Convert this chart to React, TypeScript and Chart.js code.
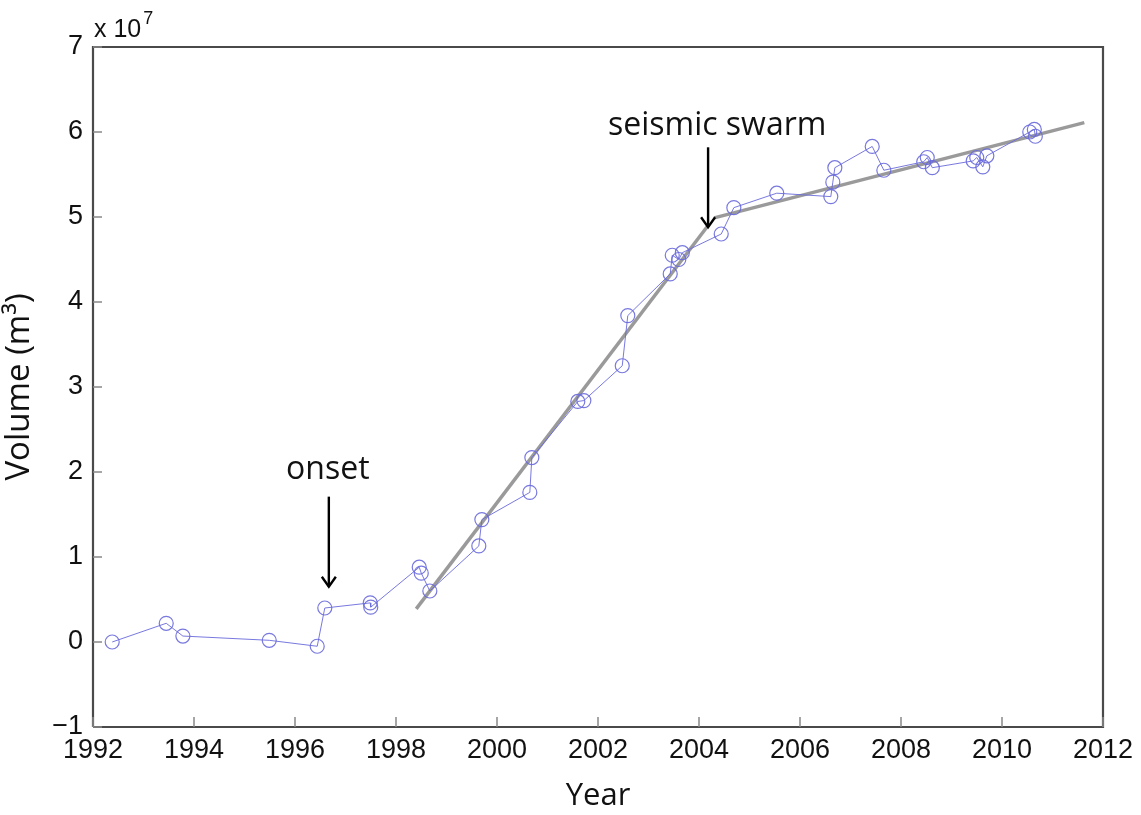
import React, { useEffect, useRef } from "react";
import { Chart, registerables } from "chart.js";

Chart.register(...registerables);

// Observed volume (x 10^7 m^3) by decimal year
const obsYears = [
  1992.38, 1993.45, 1993.78, 1995.49, 1996.44, 1996.59, 1997.49, 1997.5,
  1998.46, 1998.5, 1998.67, 1999.64, 1999.7, 2000.65, 2000.69, 2001.6,
  2001.72, 2002.48, 2002.59, 2003.43, 2003.47, 2003.6, 2003.67, 2004.44,
  2004.69, 2005.54, 2006.61, 2006.65, 2006.69, 2007.43, 2007.66, 2008.45,
  2008.52, 2008.62, 2009.43, 2009.5, 2009.62, 2009.7, 2010.55, 2010.64,
  2010.66,
];
const obsVolume = [
  0.0, 0.22, 0.07, 0.02, -0.05, 0.4, 0.46, 0.41,
  0.88, 0.81, 0.6, 1.13, 1.44, 1.76, 2.17, 2.83,
  2.84, 3.25, 3.84, 4.33, 4.55, 4.5, 4.58, 4.8,
  5.11, 5.28, 5.24, 5.41, 5.58, 5.83, 5.55, 5.65,
  5.7, 5.58, 5.66, 5.7, 5.59, 5.72, 6.0, 6.03,
  5.95,
];

// Piecewise linear fits
const fit1Years = [1998.4, 2004.18];
const fit1Volume = [0.39, 4.9];
const fit2Years = [2004.3, 2011.63];
const fit2Volume = [4.99, 6.11];

// Annotations
const annotLabels = ["onset", "seismic swarm"];
const annotTextX = [1996.65, 2004.36];
const annotTextY = [2.02, 6.07];
const arrowX = [1996.67, 2004.18];
const arrowFromY = [1.71, 5.82];
const arrowToY = [0.65, 4.88];

// Axis ticks
const xTicks = [1992, 1994, 1996, 1998, 2000, 2002, 2004, 2006, 2008, 2010, 2012];
const yTicks = [-1, 0, 1, 2, 3, 4, 5, 6, 7];

const toPts = (xs: number[], ys: number[]) => xs.map((x, i) => ({ x, y: ys[i] }));

const decorPlugin = {
  id: "decor",
  afterDraw(chart: any) {
    const { ctx, chartArea, scales } = chart;
    const xs = scales.x;
    const ys = scales.y;
    ctx.save();
    // box
    ctx.strokeStyle = "#4a4a4a";
    ctx.lineWidth = 2.2;
    ctx.beginPath();
    ctx.moveTo(chartArea.left, chartArea.bottom);
    ctx.lineTo(chartArea.left, chartArea.top);
    ctx.lineTo(chartArea.right, chartArea.top);
    ctx.lineTo(chartArea.right, chartArea.bottom);
    ctx.lineTo(chartArea.left, chartArea.bottom);
    ctx.stroke();
    // inner ticks
    ctx.strokeStyle = "#888";
    ctx.lineWidth = 1.5;
    xTicks.forEach((t) => {
      const px = xs.getPixelForValue(t);
      ctx.beginPath();
      ctx.moveTo(px, chartArea.bottom);
      ctx.lineTo(px, chartArea.bottom - 10);
      ctx.stroke();
    });
    yTicks.forEach((t) => {
      const py = ys.getPixelForValue(t);
      ctx.beginPath();
      ctx.moveTo(chartArea.left, py);
      ctx.lineTo(chartArea.left + 9, py);
      ctx.stroke();
    });
    // exponent label
    ctx.fillStyle = "#111";
    ctx.textAlign = "left";
    ctx.textBaseline = "alphabetic";
    ctx.font = "25px 'Liberation Sans', Arial, sans-serif";
    ctx.fillText("x 10", chartArea.left + 1, chartArea.top - 10);
    const w = ctx.measureText("x 10").width;
    ctx.font = "18px 'Liberation Sans', Arial, sans-serif";
    ctx.fillText("7", chartArea.left + 3 + w, chartArea.top - 23);
    // annotations
    ctx.font = "32px 'Open Sans', sans-serif";
    ctx.textAlign = "center";
    ctx.textBaseline = "middle";
    annotLabels.forEach((lab, i) => {
      ctx.fillText(lab, xs.getPixelForValue(annotTextX[i]), ys.getPixelForValue(annotTextY[i]));
    });
    ctx.strokeStyle = "#000";
    ctx.lineWidth = 2.4;
    arrowX.forEach((ax, i) => {
      const px = xs.getPixelForValue(ax);
      const y0 = ys.getPixelForValue(arrowFromY[i]);
      const y1 = ys.getPixelForValue(arrowToY[i]);
      ctx.beginPath();
      ctx.moveTo(px, y0);
      ctx.lineTo(px, y1);
      ctx.stroke();
      ctx.beginPath();
      ctx.moveTo(px - 7, y1 - 10);
      ctx.lineTo(px, y1);
      ctx.lineTo(px + 7, y1 - 10);
      ctx.stroke();
    });
    ctx.restore();
  },
};

export default function App() {
  const ref = useRef<HTMLCanvasElement | null>(null);
  useEffect(() => {
    document.body.style.margin = "0";
    const canvas = ref.current;
    if (!canvas) return;
    const lineColor = "rgba(105,105,220,0.9)";
    const chart = new Chart(canvas, {
      type: "scatter",
      data: {
        datasets: [
          {
            data: toPts(fit1Years, fit1Volume),
            showLine: true,
            borderColor: "#9a9a9a",
            borderWidth: 3.5,
            pointRadius: 0,
            order: 1,
          },
          {
            data: toPts(fit2Years, fit2Volume),
            showLine: true,
            borderColor: "#9a9a9a",
            borderWidth: 3.5,
            pointRadius: 0,
            order: 1,
          },
          {
            data: toPts(obsYears, obsVolume),
            showLine: true,
            borderColor: lineColor,
            borderWidth: 1,
            pointRadius: 7,
            pointBorderWidth: 1.2,
            pointBorderColor: lineColor,
            pointBackgroundColor: "rgba(0,0,0,0)",
            order: 0,
          },
        ],
      },
      options: {
        animation: false,
        responsive: false,
        maintainAspectRatio: false,
        layout: { padding: { top: 47, right: 38, left: 0, bottom: 0 } },
        plugins: { legend: { display: false }, tooltip: { enabled: false } },
        scales: {
          x: {
            type: "linear",
            min: 1992,
            max: 2012,
            afterBuildTicks: (s: any) => {
              s.ticks = xTicks.map((v) => ({ value: v }));
            },
            afterFit: (s: any) => {
              s.height = 88;
            },
            grid: { display: false, drawTicks: false },
            border: { display: false },
            ticks: {
              autoSkip: false,
              maxRotation: 0,
              padding: 7,
              color: "#111",
              font: { size: 27, family: "'Liberation Sans', Arial, sans-serif" },
              callback: (v: any) => String(v),
            },
            title: {
              display: true,
              text: "Year",
              color: "#111",
              font: { size: 31, family: "'Open Sans', sans-serif" },
              padding: { top: 0, bottom: 0 },
            },
          },
          y: {
            type: "linear",
            min: -1,
            max: 7,
            afterBuildTicks: (s: any) => {
              s.ticks = yTicks.map((v) => ({ value: v }));
            },
            afterFit: (s: any) => {
              s.width = 93;
            },
            grid: { display: false, drawTicks: false },
            border: { display: false },
            ticks: {
              autoSkip: false,
              padding: 10,
              color: "#111",
              font: { size: 27, family: "'Liberation Sans', Arial, sans-serif" },
              callback: (v: any) => (v < 0 ? "\u2212" + Math.abs(v) : String(v)),
            },
            title: {
              display: true,
              text: "Volume (m\u00b3)",
              color: "#111",
              font: { size: 33, family: "'Open Sans', sans-serif" },
              padding: { top: 0, bottom: 10 },
            },
          },
        },
      },
      plugins: [decorPlugin],
    } as any);
    return () => chart.destroy();
  }, []);
  return (
    <div style={{ position: "absolute", left: 0, top: 0, width: 1141, height: 815, background: "#fff" }}>
      <canvas ref={ref} width={1141} height={815} style={{ display: "block" }} />
    </div>
  );
}
